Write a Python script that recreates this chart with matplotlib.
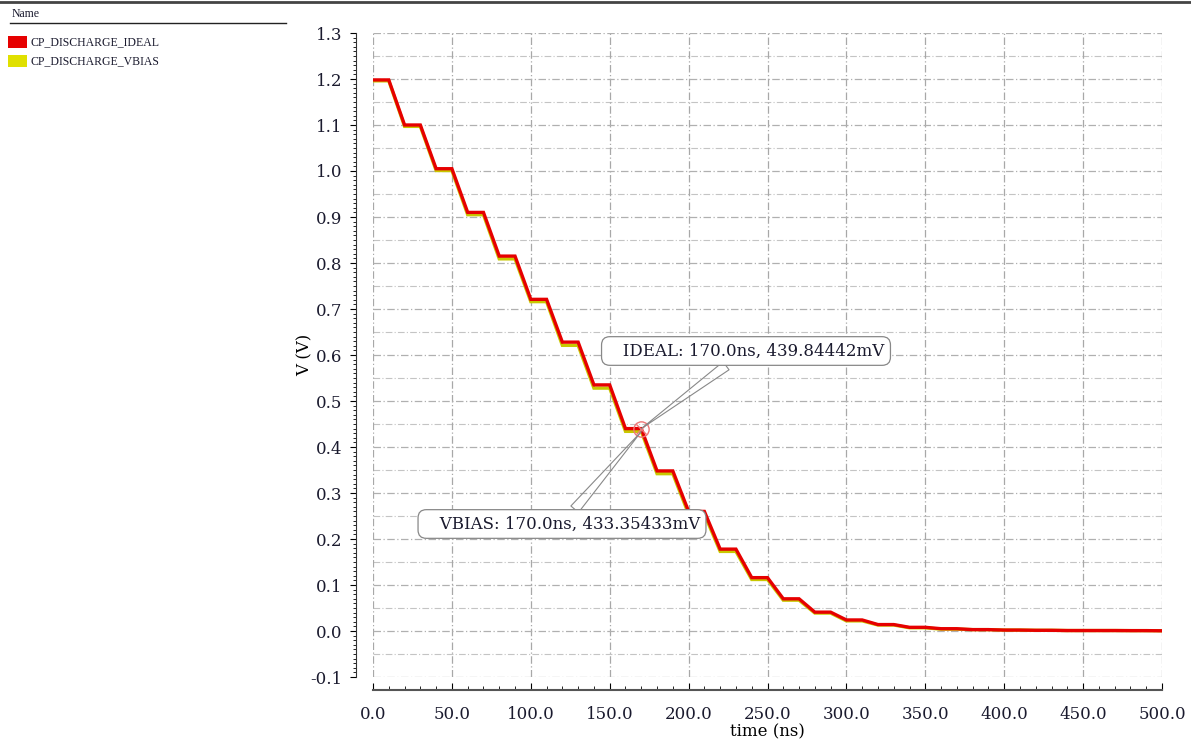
import numpy as np
import matplotlib
matplotlib.use('Agg')
import matplotlib.pyplot as plt
import matplotlib.patches as patches
import matplotlib.lines as lines
from matplotlib.ticker import MultipleLocator, FormatStrFormatter

# start time of each flat step (ns), each flat lasts 10 ns then ramps 10 ns
step_t = [0, 20, 40, 60, 80, 100, 120, 140, 160, 180, 200, 220, 240,
          260, 280, 300, 320, 340, 360, 380, 400, 420, 440, 460, 480]
ideal_v = [1.198, 1.100, 1.005, 0.910, 0.815, 0.721, 0.628, 0.535, 0.440,
           0.348, 0.260, 0.178, 0.116, 0.070, 0.041, 0.024, 0.014, 0.008,
           0.005, 0.003, 0.002, 0.0015, 0.001, 0.001, 0.0008]
vbias_v = [1.196, 1.097, 1.001, 0.905, 0.809, 0.716, 0.621, 0.528, 0.434,
           0.342, 0.254, 0.173, 0.112, 0.067, 0.039, 0.022, 0.013, 0.007,
           0.004, 0.003, 0.002, 0.0015, 0.001, 0.001, 0.0008]
end_t = 500
end_v = 0.0005

names = ['CP_DISCHARGE_IDEAL', 'CP_DISCHARGE_VBIAS']
color_ideal = '#e60000'
color_vbias = '#c8c800'

mark_t = 170.0
mark_ideal = 0.43984442
mark_vbias = 0.43335433


def waveform(starts, levels):
    t, v = [], []
    for s, lv in zip(starts, levels):
        t += [s, s + 10]
        v += [lv, lv]
    t.append(end_t)
    v.append(end_v)
    return np.array(t), np.array(v)


t_i, v_i = waveform(step_t, ideal_v)
t_v, v_v = waveform(step_t, vbias_v)

fig = plt.figure(figsize=(11.91, 7.49), dpi=100)
ax = fig.add_axes([373 / 1191, 1 - 677 / 749, (1162 - 373) / 1191, (677 - 33) / 749])

ax.plot(t_v, v_v, color=color_vbias, lw=2.4, solid_joinstyle='miter', zorder=3)
ax.plot(t_i, v_i, color=color_ideal, lw=2.4, solid_joinstyle='miter', zorder=4)

ax.set_xlim(0, 500)
ax.set_ylim(-0.1, 1.3)

ax.xaxis.set_major_locator(MultipleLocator(50))
ax.xaxis.set_minor_locator(MultipleLocator(10))
ax.yaxis.set_major_locator(MultipleLocator(0.1))
ax.yaxis.set_minor_locator(MultipleLocator(0.01))
ax.xaxis.set_major_formatter(FormatStrFormatter('%.1f'))
ax.yaxis.set_major_formatter(FormatStrFormatter('%.1f'))

ax.grid(axis='x', which='major', color='#a8a8a8', linestyle=(0, (6, 2, 1, 2)), lw=0.9)
ax.grid(axis='y', which='major', color='#b0b0b0', linestyle=(0, (6, 2, 1, 2)), lw=0.9)
for yv in np.arange(-0.05, 1.3, 0.1):
    ax.axhline(yv, color='#c4c4c4', linestyle=(0, (6, 2, 1, 2)), lw=0.8, zorder=0)

for s in ['top', 'right']:
    ax.spines[s].set_visible(False)
ax.spines['left'].set_position(('outward', 12))
ax.spines['bottom'].set_position(('outward', 9))
ax.spines['left'].set_color('#333333')
ax.spines['bottom'].set_color('#555555')
ax.spines['bottom'].set_linewidth(1.5)

tick_font = dict(family='DejaVu Serif', size=12)
ax.tick_params(axis='y', which='major', direction='out', length=4, labelsize=12, pad=6)
ax.tick_params(axis='y', which='minor', direction='out', length=2)
ax.tick_params(axis='x', which='major', direction='in', length=5, labelsize=12, pad=12)
ax.tick_params(axis='x', which='minor', direction='in', length=3)
for lab in ax.get_xticklabels() + ax.get_yticklabels():
    lab.set_family('DejaVu Serif')
    lab.set_color('#1a1a2e')
ax.set_xlabel('time (ns)', fontdict=tick_font, labelpad=0)
ax.set_ylabel('V (V)', fontdict=tick_font, labelpad=-2)

# marker at cursor
ax.plot(mark_t, mark_ideal, 'o', ms=11, mfc='none', mec='#ee7777', mew=1.0, zorder=6)
ax.plot(mark_t, mark_ideal, 'x', ms=7, mec='#ee7777', mew=1.0, zorder=6)

box = dict(boxstyle='round,pad=0.35,rounding_size=0.5', fc='white', ec='#888888', lw=0.9)
arrow = dict(arrowstyle='wedge,tail_width=0.6', fc='none', ec='#888888', lw=0.8,
             shrinkA=0, shrinkB=0)
ax.annotate('   IDEAL: %.1fns, %.5fmV' % (mark_t, mark_ideal * 1000),
            xy=(mark_t, mark_ideal), xytext=(746, 749 - 351), textcoords='figure pixels',
            ha='center', va='center', fontsize=12, family='DejaVu Serif',
            color='#1a1a2e', bbox=box, arrowprops=arrow, zorder=7)
ax.annotate('   VBIAS: %.1fns, %.5fmV' % (mark_t, mark_vbias * 1000),
            xy=(mark_t, mark_vbias), xytext=(562, 749 - 524), textcoords='figure pixels',
            ha='center', va='center', fontsize=12, family='DejaVu Serif',
            color='#1a1a2e', bbox=box, arrowprops=arrow, zorder=7)

# header / legend area
fig.add_artist(lines.Line2D([0, 1], [1 - 2 / 749, 1 - 2 / 749], color='#444444', lw=2))
fig.text(12 / 1191, 1 - 14 / 749, 'Name', family='Liberation Serif', size=8.5,
         va='center', color='#1a1a2e')
fig.add_artist(lines.Line2D([10 / 1191, 286 / 1191], [1 - 23 / 749, 1 - 23 / 749],
                            color='#222222', lw=1))
leg_colors = [color_ideal, '#e0e000']
for i, (nm, c) in enumerate(zip(names, leg_colors)):
    yc = 42 + i * 19
    fig.add_artist(patches.Rectangle((8 / 1191, 1 - (yc + 6) / 749), 19 / 1191, 12 / 749,
                                     facecolor=c, edgecolor='none'))
    fig.text(31 / 1191, 1 - yc / 749, nm, family='Liberation Serif', size=8.5,
             va='center', color='#1a1a2e')

plt.savefig('out.png', dpi=100)
